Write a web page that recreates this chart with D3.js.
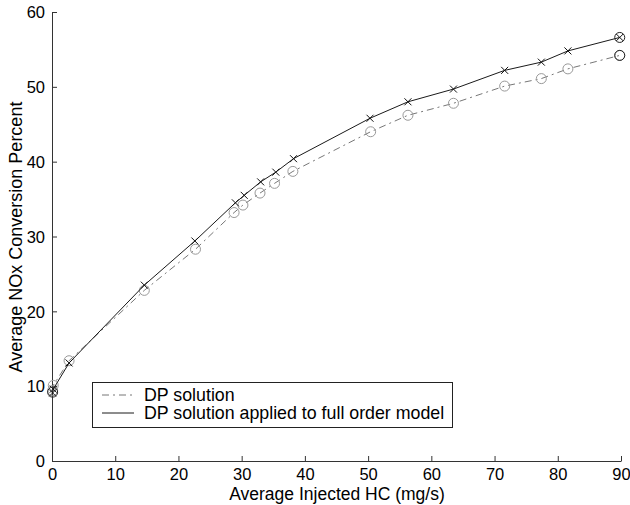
<!DOCTYPE html>
<html><head><meta charset="utf-8">
<script src="https://cdn.jsdelivr.net/npm/d3@7"></script>
<style>body{margin:0;background:#fff}svg{display:block}text{font-family:"Liberation Sans",Arial,sans-serif}</style>
</head><body><svg id="c" width="630" height="505"></svg>
<script>
const dpX = [0.1, 0.2, 2.7, 14.6, 22.7, 28.8, 30.2, 32.9, 35.2, 38.1, 50.4, 56.3, 63.5, 71.6, 77.4, 81.6, 89.8];
const dpY = [9.4, 10.1, 13.4, 22.8, 28.3, 33.2, 34.2, 35.8, 37.1, 38.7, 44.0, 46.2, 47.8, 50.1, 51.1, 52.4, 54.2];
const fullX = [0.1, 0.2, 2.7, 14.6, 22.6, 29.0, 30.4, 33.0, 35.4, 38.2, 50.3, 56.3, 63.5, 71.6, 77.4, 81.6, 89.8];
const fullY = [9.1, 9.6, 13.1, 23.5, 29.4, 34.5, 35.5, 37.3, 38.6, 40.4, 45.8, 48.0, 49.7, 52.2, 53.3, 54.8, 56.6];
const endX = [0.1, 89.8, 89.8];
const endY = [9.2, 56.6, 54.2];
const xTicks = [0, 10, 20, 30, 40, 50, 60, 70, 80, 90];
const yTicks = [0, 10, 20, 30, 40, 50, 60];
const legendLabels = ["DP solution", "DP solution applied to full order model"];

const svg = d3.select("#c");
const x = d3.scaleLinear().domain([0, 90]).range([52, 621]);
const y = d3.scaleLinear().domain([0, 60]).range([461, 12]);

const axisCol = "#333";
const gx = svg.append("g").attr("transform", "translate(0,461)")
  .call(d3.axisBottom(x).tickValues(xTicks).tickSizeInner(-5).tickSizeOuter(0).tickPadding(7));
const gy = svg.append("g").attr("transform", "translate(52,0)")
  .call(d3.axisLeft(y).tickValues(yTicks).tickSizeInner(-5).tickSizeOuter(0).tickPadding(7));
[gx, gy].forEach(g => {
  g.select(".domain").attr("stroke", axisCol).attr("stroke-width", 1);
  g.selectAll(".tick line").attr("stroke", axisCol);
  g.selectAll(".tick text").attr("font-size", 16.5).attr("fill", "#000")
    .style("font-family", '"Liberation Sans", Arial, sans-serif');
});
gy.selectAll(".tick text").attr("dy", "0.35em");

svg.append("text").attr("x", 337).attr("y", 500).attr("text-anchor", "middle")
  .attr("font-size", 17.5).text("Average Injected HC (mg/s)");
svg.append("text").attr("transform", "translate(22,237) rotate(-90)").attr("text-anchor", "middle")
  .attr("font-size", 18).text("Average NOx Conversion Percent");

const dp = dpX.map((v, i) => [v, dpY[i]]);
const full = fullX.map((v, i) => [v, fullY[i]]);
const line = d3.line().x(d => x(d[0])).y(d => y(d[1]));

svg.append("path").attr("d", line(dp)).attr("fill", "none").attr("stroke", "#777")
  .attr("stroke-width", 1).attr("stroke-dasharray", "7,4,2,4");
svg.selectAll(".dpc").data(dp).enter().append("circle")
  .attr("cx", d => x(d[0])).attr("cy", d => y(d[1])).attr("r", 5)
  .attr("fill", "none").attr("stroke", "#999").attr("stroke-width", 1);

svg.append("path").attr("d", line(full)).attr("fill", "none").attr("stroke", "#1a1a1a").attr("stroke-width", 1);
const s = 3.5;
svg.selectAll(".fx").data(full).enter().append("path")
  .attr("d", d => { const cx = x(d[0]), cy = y(d[1]);
    return `M${cx-s},${cy-s}L${cx+s},${cy+s}M${cx-s},${cy+s}L${cx+s},${cy-s}`; })
  .attr("stroke", "#111").attr("stroke-width", 1);

const ends = endX.map((v, i) => [v, endY[i]]);
svg.selectAll(".ec").data(ends).enter().append("circle")
  .attr("cx", d => x(d[0])).attr("cy", d => y(d[1])).attr("r", 5)
  .attr("fill", "none").attr("stroke", "#222").attr("stroke-width", 1);

// legend
const lg = svg.append("g");
lg.append("rect").attr("x", 92.5).attr("y", 382.5).attr("width", 360).attr("height", 45)
  .attr("fill", "#fff").attr("stroke", "#222").attr("stroke-width", 1);
const rows = [395, 413];
lg.append("line").attr("x1", 102).attr("x2", 134).attr("y1", rows[0]).attr("y2", rows[0])
  .attr("stroke", "#777").attr("stroke-dasharray", "7,4,2,4");
lg.append("line").attr("x1", 102).attr("x2", 134).attr("y1", rows[1]).attr("y2", rows[1])
  .attr("stroke", "#1a1a1a");
legendLabels.forEach((t, i) => lg.append("text").attr("x", 144).attr("y", rows[i]).attr("dy", "0.35em")
  .attr("font-size", 17.8).text(t));
</script></body></html>
